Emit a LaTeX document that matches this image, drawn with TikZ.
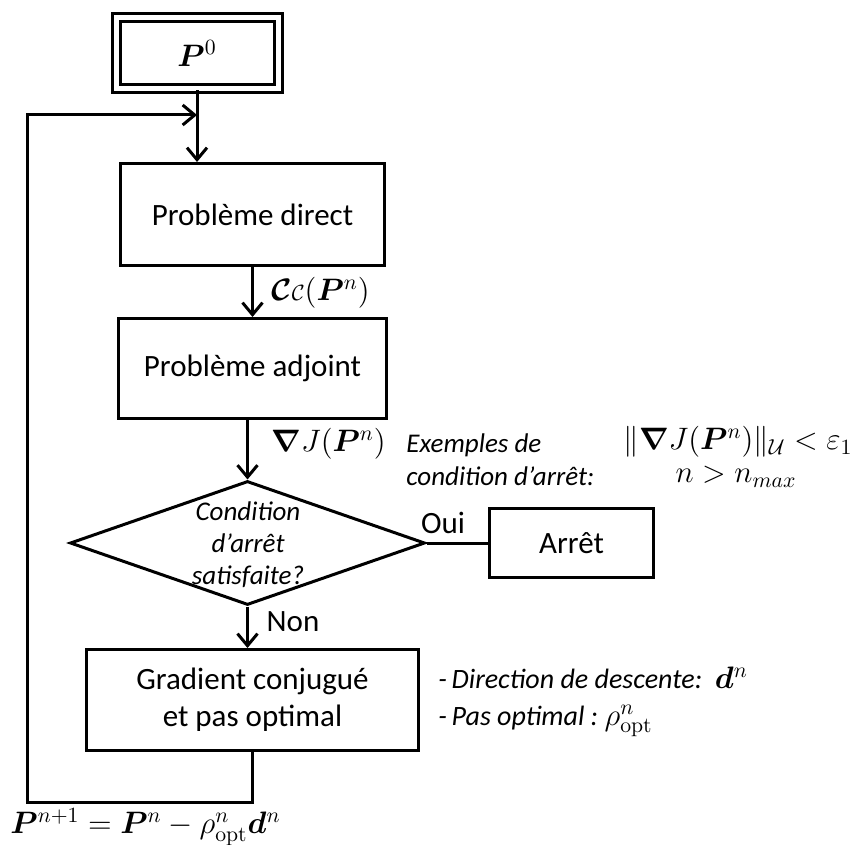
\RequirePackage{fix-cm}
\documentclass[tikz,border=0pt]{standalone}
\usepackage{amsmath,bm}
\usepackage[no-math]{fontspec}
\setmainfont{Carlito}
\usetikzlibrary{shapes.geometric,arrows.meta}
\begin{document}
\begin{tikzpicture}[x=0.5pt,y=-0.5pt,
  box/.style={draw,line width=1.5pt,inner sep=0pt,align=center,font=\fontsize{15.5}{18.5}\selectfont},
  arr/.style={line width=1.5pt,-{Straight Barb[length=6pt,width=10pt,line width=1.5pt]}},
  ln/.style={line width=1.5pt},
  lbl/.style={inner sep=0pt,font=\fontsize{15.5}{18.5}\selectfont},
  note/.style={inner sep=0pt,align=left,font=\fontsize{13.5}{16.5}\selectfont\itshape},
  mth/.style={inner sep=0pt,font=\fontsize{15.5}{18.5}\selectfont},
]
\useasboundingbox (0,0) rectangle (856,845);

% nodes
\node[box,double,double distance=2.5pt,minimum width=81pt,minimum height=35.5pt] (p0) at (197,53.5) {$\boldsymbol{P}^0$};
\node[box,minimum width=132pt,minimum height=51pt] (direct) at (252.5,214.5) {Problème direct};
\node[box,minimum width=134pt,minimum height=50pt] (adjoint) at (252.5,368.5) {Problème adjoint};
\node[draw,line width=1.5pt,shape=diamond,inner sep=0pt,minimum width=177.5pt,minimum height=62pt] (diam) at (247.5,543) {};
\node[note,align=center,font=\fontsize{13.5}{16}\selectfont\itshape] (dtext) at (248,545) {Condition\\d’arrêt\\satisfaite?};
\node[box,minimum width=82pt,minimum height=34.5pt] (arret) at (571.5,543) {Arrêt};
\node[box,minimum width=166pt,minimum height=50.5pt] (grad) at (252.5,700) {Gradient conjugué\\[0pt]et pas optimal};

% labels
\node[mth,anchor=west] (lcc) at (271,293) {$\boldsymbol{\mathcal{C}}\mbox{\fontsize{11}{13}\selectfont$\mathcal{C}$}(\boldsymbol{P}^n)$};
\node[mth,anchor=west] (lgrad) at (271,444) {$\boldsymbol{\nabla} J(\boldsymbol{P}^n)$};
\node[note,anchor=west] (lex) at (406,460) {Exemples de\\condition d’arrêt:};
\node[mth] (lc1) at (738,442) {$\|\boldsymbol{\nabla} J(\boldsymbol{P}^n)\|_{\mathcal{U}} < \varepsilon_1$};
\node[mth] (lc2) at (736,477) {$n > n_{max}$};
\node[lbl] (loui) at (443,523) {Oui};
\node[lbl] (lnon) at (293,622) {Non};
\node[note,anchor=west,font=\fontsize{14}{18.5}\selectfont\itshape] (ldir) at (438,702) {-\,Direction de descente:\ \ {\fontsize{15.5}{18.5}\selectfont$\boldsymbol{d}^n$}\\-\,Pas optimal :\ {\fontsize{15.5}{18.5}\selectfont$\rho^n_{\mathrm{opt}}$}};
\node[mth,anchor=west] (lupd) at (10,827) {$\boldsymbol{P}^{n+1} = \boldsymbol{P}^n - \rho^n_{\mathrm{opt}}\boldsymbol{d}^n$};

% loop coordinates
\coordinate (c1) at (27,802);
\coordinate (c2) at (27,115);
\coordinate (jn) at (197,115);

% connectors
\draw[arr] (p0.south) -- (p0.south |- direct.north);
\draw[arr] (grad.south) |- (c1) -- (c2) -- (jn);
\draw[arr] (direct.south) -- (adjoint.north);
\draw[arr] (diam.north |- adjoint.south) -- (diam.north);
\draw[arr] (diam.south) -- (diam.south |- grad.north);
\draw[ln] (diam.east) -- (arret.west);
\end{tikzpicture}
\end{document}
